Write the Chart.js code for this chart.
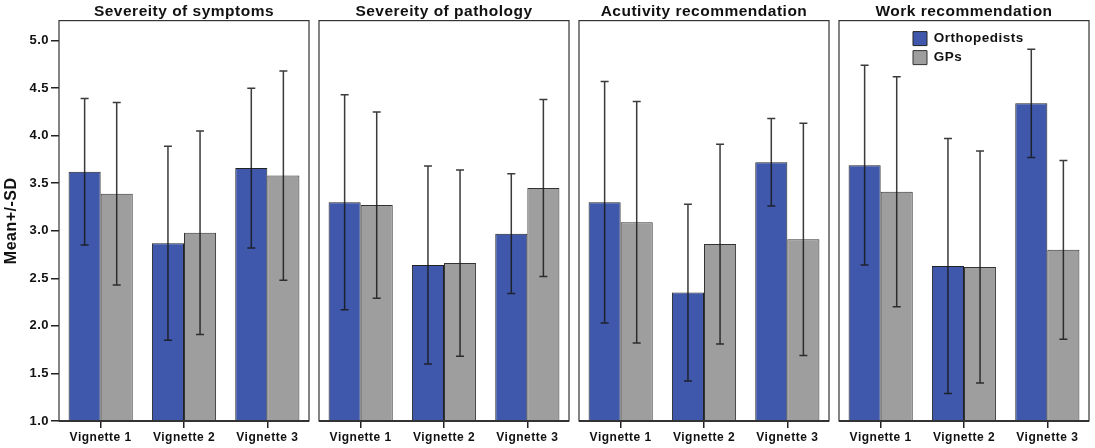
<!DOCTYPE html>
<html lang="en">
<head>
    <meta charset="UTF-8">
    <title>Mean +/- SD by vignette</title>
    <script src="https://cdn.jsdelivr.net/npm/chart.js"></script>
    <style>
        body { margin: 0; background: #fff; }
        #wrap { position: relative; width: 1095px; height: 448px; }
        #wrap canvas { position: absolute; top: 0; }
    </style>
</head>
<body>
    <div id="wrap">
        <canvas id="p0" width="312" height="448" style="left:0px"></canvas>
        <canvas id="p1" width="256" height="448" style="left:316px"></canvas>
        <canvas id="p2" width="256" height="448" style="left:576px"></canvas>
        <canvas id="p3" width="256" height="448" style="left:836px"></canvas>
    </div>

    <script>
        const panelTitles = ['Severeity of symptoms', 'Severeity of pathology', 'Acutivity recommendation', 'Work recommendation'];
        const vignettes = ['Vignette 1', 'Vignette 2', 'Vignette 3'];
        const seriesNames = ['Orthopedists', 'GPs'];

        // means and SDs, one row per panel, one value per vignette
        const orthoMeans = [[3.62, 2.87, 3.66], [3.30, 2.64, 2.97], [3.30, 2.35, 3.72], [3.69, 2.63, 4.34]];
        const orthoSD    = [[0.77, 1.02, 0.84], [1.13, 1.04, 0.63], [1.27, 0.93, 0.46], [1.05, 1.34, 0.57]];
        const gpMeans    = [[3.39, 2.98, 3.58], [3.27, 2.66, 3.45], [3.09, 2.86, 2.91], [3.41, 2.62, 2.80]];
        const gpSD       = [[0.96, 1.07, 1.10], [0.98, 0.98, 0.93], [1.27, 1.05, 1.22], [1.21, 1.22, 0.94]];

        const yMin = 1.0, yMax = 5.21, yStep = 0.5, yTickTop = 5.0;

        const BLUE = '#3f58ab';
        const GREY = '#9e9e9e';
        const FONT = 'Liberation Sans, Arial, sans-serif';

        // SPSS output is slightly letter-spaced
        const spacing = {
            id: 'spacing',
            beforeLayout(chart) { chart.ctx.letterSpacing = '0.5px'; },
            beforeDraw(chart) { chart.ctx.letterSpacing = '0.5px'; }
        };

        const errorBars = {
            id: 'errorBars',
            afterDatasetsDraw(chart) {
                const ctx = chart.ctx;
                const y = chart.scales.y;
                ctx.save();
                ctx.strokeStyle = 'rgba(25,25,25,0.85)';
                ctx.lineWidth = 1.5;
                chart.data.datasets.forEach((ds, i) => {
                    chart.getDatasetMeta(i).data.forEach((bar, j) => {
                        const m = ds.data[j], sd = ds.sd[j];
                        const top = y.getPixelForValue(m + sd);
                        const bot = y.getPixelForValue(m - sd);
                        ctx.beginPath();
                        ctx.moveTo(bar.x, top); ctx.lineTo(bar.x, bot);
                        ctx.moveTo(bar.x - 4, top); ctx.lineTo(bar.x + 4, top);
                        ctx.moveTo(bar.x - 4, bot); ctx.lineTo(bar.x + 4, bot);
                        ctx.stroke();
                    });
                });
                ctx.restore();
            }
        };

        const frame = {
            id: 'frame',
            afterDraw(chart) {
                const a = chart.chartArea, ctx = chart.ctx;
                ctx.save();
                ctx.strokeStyle = '#333';
                ctx.lineWidth = 1.2;
                ctx.strokeRect(a.left, a.top, a.right - a.left, a.bottom - a.top);
                ctx.lineWidth = 2;
                ctx.beginPath();
                ctx.moveTo(a.left, a.bottom); ctx.lineTo(a.right, a.bottom);
                ctx.stroke();
                ctx.restore();
            }
        };

        // put the legend inside the last panel, upper middle
        const legendPlace = {
            id: 'legendPlace',
            afterLayout(chart) {
                const l = chart.legend;
                if (!l || !chart.options.plugins.legend.display) return;
                const a = chart.chartArea;
                const w = l.width, h = l.height;
                l.left = a.left + 69; l.right = l.left + w;
                l.top = a.top + 6; l.bottom = l.top + h;
            }
        };

        function makePanel(k) {
            const first = k === 0;
            const last = k === 3;
            const yScale = {
                display: first,
                min: yMin, max: yMax,
                afterBuildTicks(s) { s.ticks = s.ticks.filter(t => t.value <= yTickTop + 1e-6); },
                grid: { drawOnChartArea: false, tickLength: 8, color: '#222', lineWidth: 1.5 },
                border: { display: false },
                ticks: { stepSize: yStep, color: '#111', padding: 2,
                         font: { family: FONT, size: 13, weight: 'bold' },
                         callback: v => v.toFixed(1) },
                title: { display: true, text: 'Mean+/-SD', color: '#111', padding: { top: 2, bottom: 0 },
                         font: { family: FONT, size: 16, weight: 'bold' } }
            };
            if (first) yScale.afterFit = s => { s.width = 59; };

            new Chart(document.getElementById('p' + k), {
                type: 'bar',
                data: {
                    labels: vignettes,
                    datasets: [
                        { label: seriesNames[0], data: orthoMeans[k], sd: orthoSD[k],
                          backgroundColor: BLUE, borderColor: '#222', borderWidth: 1 },
                        { label: seriesNames[1], data: gpMeans[k], sd: gpSD[k],
                          backgroundColor: GREY, borderColor: '#333', borderWidth: 1 }
                    ]
                },
                options: {
                    responsive: false,
                    animation: false,
                    layout: { padding: { left: first ? 0 : 3, right: 3, top: 0, bottom: 0 } },
                    datasets: { bar: { categoryPercentage: 0.77, barPercentage: 1 } },
                    scales: {
                        x: {
                            afterFit(s) { s.height = 27; },
                            grid: { display: true, drawOnChartArea: false, offset: false,
                                    tickLength: 7, color: '#222', lineWidth: 1.5 },
                            border: { display: false },
                            ticks: { color: '#111', padding: 2, maxRotation: 0, autoSkip: false,
                                     font: { family: FONT, size: 12, weight: 'bold' } }
                        },
                        y: yScale
                    },
                    plugins: {
                        title: { display: true, text: panelTitles[k], fullSize: false, color: '#111',
                                 padding: { top: 2, bottom: 0 },
                                 font: { family: FONT, size: 15.5, weight: 'bold', lineHeight: 1.2 } },
                        legend: {
                            display: last,
                            position: 'chartArea',
                            align: 'start',
                            labels: { boxWidth: 14, boxHeight: 14, padding: 5, color: '#111',
                                      font: { family: FONT, size: 13.5, weight: 'bold' } }
                        },
                        tooltip: { enabled: false }
                    }
                },
                plugins: [spacing, errorBars, frame, legendPlace]
            });
        }

        for (let k = 0; k < 4; k++) makePanel(k);
    </script>
</body>
</html>
